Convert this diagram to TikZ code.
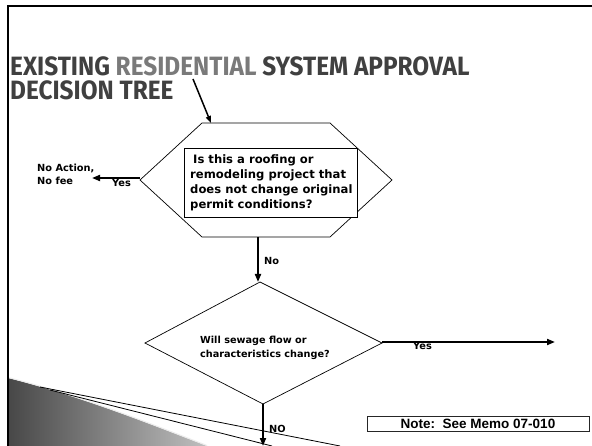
\documentclass[tikz,border=0pt]{standalone}
\usepackage{fontspec}
\newfontfamily\titlefont{Fira Sans}[FakeStretch=0.92]
\newfontfamily\boxfont{DejaVu Sans}
\newfontfamily\arialfont{Liberation Sans}
\usetikzlibrary{arrows.meta}
\definecolor{titlegray}{HTML}{404040}
\definecolor{resgray}{HTML}{7A7A7A}
\begin{document}
\begin{tikzpicture}[x=1pt,y=-1pt,
  frameline/.style={line width=2pt, black},
  flowarrow/.style={line width=1.9pt, -{Triangle[length=8pt,width=6pt]}},
  shapeline/.style={line width=0.7pt, black},
  lbl/.style={font=\boxfont\bfseries\fontsize{9.8}{13.5}\selectfont, inner sep=0, align=left},
  titletext/.style={font=\titlefont\bfseries\fontsize{26.5}{30}\selectfont, text=titlegray, inner sep=0, anchor=base west}
]
\useasboundingbox (0,0) rectangle (592,446);
\fill[white] (0,0) rectangle (592,446);

% bottom-left decoration
\shade[left color=black!72, right color=black!25]
  (8,378) .. controls (80,396) and (150,424) .. (207,446) -- (8,446) -- cycle;
\draw[white!85!gray, line width=1pt] (8,377.5) .. controls (80,395.5) and (150,423.5) .. (207,445.5);
\draw[line width=0.8pt] (40,387) -- (340,446);
\draw[line width=0.8pt] (50,390) -- (272,446);

% frame
\draw[frameline] (8,446) -- (8,6) -- (592,6);

% title
\node[titletext] (title1) at (10,76) {EXISTING \textcolor{resgray}{RESIDENTIAL} SYSTEM APPROVAL};
\node[titletext] (title2) at (10,100) {DECISION TREE};
\coordinate (tstart) at (193,79);

% hexagon
\coordinate (hW) at (140,180);
\coordinate (hNW) at (202,123);
\coordinate (hNE) at (330,123);
\coordinate (hE) at (392,180);
\coordinate (hSE) at (330,237);
\coordinate (hSW) at (202,237);
\coordinate (hTop) at (211,123);
\coordinate (hLeft) at (140,178);
\coordinate (hBot) at (258,237);
\draw[shapeline] (hW) -- (hNW) -- (hNE) -- (hE) -- (hSE) -- (hSW) -- cycle;
\node[draw, fill=white, line width=0.9pt, minimum width=173pt, minimum height=69pt,
      anchor=north west, inner sep=0] (q1box) at (184,148) {};
\node[font=\boxfont\bfseries\fontsize{11.6}{15}\selectfont, inner sep=0, align=left, anchor=north west]
  (q1) at (190,154.4) {\hspace{3pt}Is this a roofing or\\remodeling project that\\does not change original\\permit conditions?};

% diamond
\coordinate (dN) at (260,282);
\coordinate (dW) at (145,343);
\coordinate (dE) at (382,343);
\coordinate (dS) at (263,404);
\coordinate (dTop) at (258,282);
\coordinate (dRight) at (382,342);
\draw[shapeline] (dN) -- (dE) -- (dS) -- (dW) -- cycle;
\node[font=\boxfont\bfseries\fontsize{9.7}{14}\selectfont, inner sep=0, align=left, anchor=north west]
  (q2) at (200,335.6) {Will sewage flow or\\characteristics change?};

% end points
\coordinate (noaction) at (92,178);
\coordinate (yesend) at (555,342);
\coordinate (noend) at (263,446);

% arrows
\draw[line width=1.5pt, -{Triangle[length=7pt,width=5pt]}] (tstart) -- (hTop);
\draw[flowarrow] (hLeft) -- (noaction);
\draw[flowarrow] (hBot) -- (dTop);
\draw[flowarrow] (dRight) -- (yesend);
\draw[flowarrow] (dS) -- (noend);

% labels
\node[lbl, anchor=north west] (noact) at (37,163.6) {No Action,\\No fee};
\node[lbl, anchor=base west] (yesL) at (112,186.5) {Yes};
\node[lbl, anchor=base west] (noL) at (264,265) {No};
\node[lbl, anchor=base west] (yesR) at (413,349.5) {Yes};
\node[lbl, anchor=base west] (noL2) at (269,432.5) {NO};

% note
\node[draw=black!85, line width=0.8pt, fill=white, minimum width=222pt, minimum height=15pt, inner sep=0,
      font=\arialfont\bfseries\fontsize{13.5}{15}\selectfont] (note) at (478,423.5) {Note:\ \ See Memo 07-010};
\end{tikzpicture}
\end{document}
